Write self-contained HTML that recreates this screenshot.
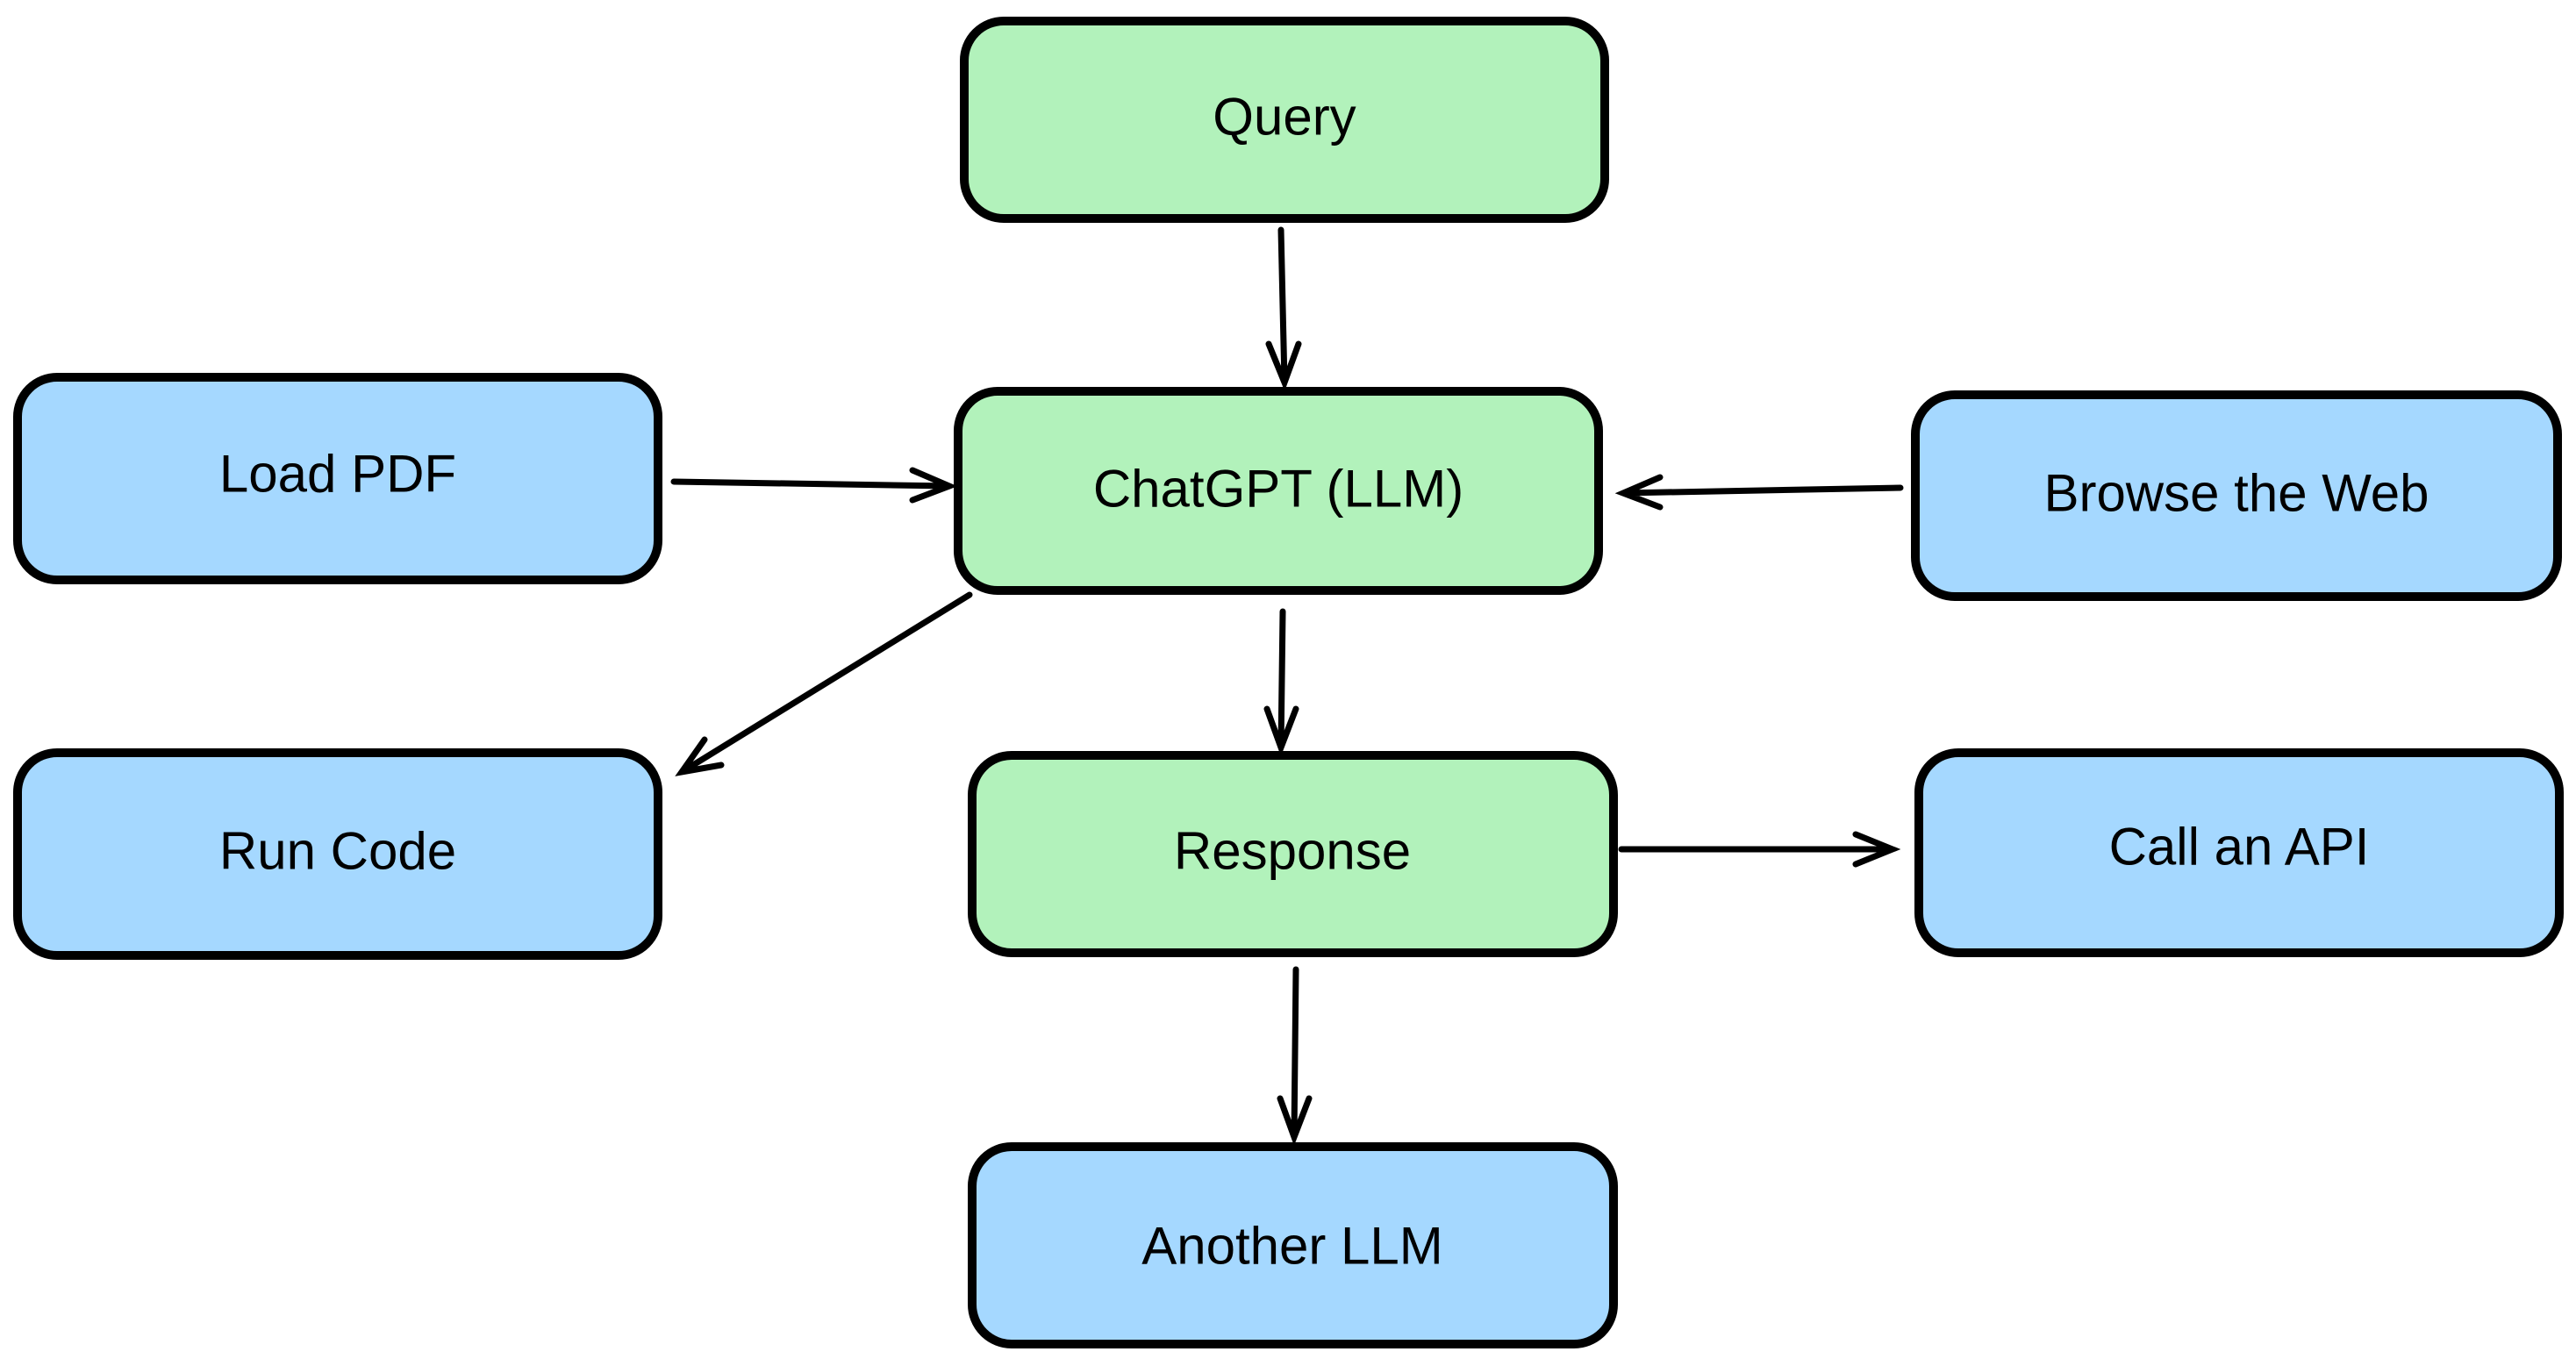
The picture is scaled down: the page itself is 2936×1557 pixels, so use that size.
<!DOCTYPE html>
<html><head><meta charset="utf-8"><style>
html,body{margin:0;padding:0;background:#fff;}
svg{display:block}
text{font-family:"Liberation Sans",sans-serif;font-size:60px;fill:#000;text-anchor:middle;dominant-baseline:central;}
</style></head><body>
<svg width="2936" height="1557" viewBox="0 0 2936 1557" xmlns="http://www.w3.org/2000/svg">
<g stroke="#000" stroke-width="10" stroke-linejoin="round">
<rect x="1099" y="24" width="730" height="225" rx="45" fill="#b2f2bb"/>
<rect x="1092" y="446" width="730" height="227" rx="45" fill="#b2f2bb"/>
<rect x="20" y="430" width="730" height="231" rx="45" fill="#a5d8ff"/>
<rect x="2183" y="450" width="732" height="230" rx="45" fill="#a5d8ff"/>
<rect x="20" y="858" width="730" height="231" rx="45" fill="#a5d8ff"/>
<rect x="1108" y="861" width="731" height="225" rx="45" fill="#b2f2bb"/>
<rect x="2187" y="858" width="730" height="228" rx="45" fill="#a5d8ff"/>
<rect x="1108" y="1307" width="731" height="225" rx="45" fill="#a5d8ff"/>
</g>
<g stroke="#000" stroke-width="7" stroke-linecap="round" fill="none">
<path d="M1460 262 L1464 436 M1446 392 L1464 436 L1480 392"/>
<path d="M768 549 L1082 554 M1040 536 L1082 554 L1040 570"/>
<path d="M2166 556 L1850 562 M1892 544 L1850 562 L1892 578"/>
<path d="M1105 678 L777 880 M803 843 L777 880 L822 872"/>
<path d="M1462 697 L1460 852 M1444 808 L1460 852 L1477 808"/>
<path d="M1848 968 L2157 968 M2115 951 L2157 968 L2115 985"/>
<path d="M1477 1105 L1475 1296 M1459 1252 L1475 1296 L1492 1252"/>
</g>
<text x="1464" y="133">Query</text>
<text x="1457" y="557">ChatGPT (LLM)</text>
<text x="385" y="540">Load PDF</text>
<text x="2549" y="562">Browse the Web</text>
<text x="385" y="970">Run Code</text>
<text x="1473" y="970">Response</text>
<text x="2552" y="965">Call an API</text>
<text x="1473" y="1420">Another LLM</text>
</svg>
</body></html>
